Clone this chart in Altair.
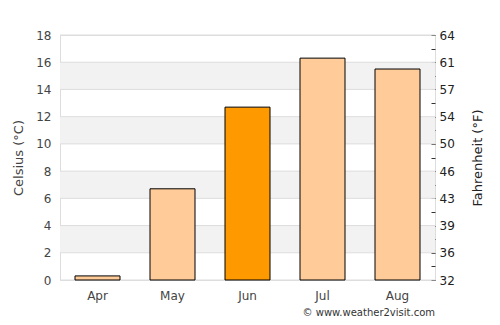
import altair as alt
import pandas as pd

months = ["Apr", "May", "Jun", "Jul", "Aug"]
celsius = [0.3, 6.7, 12.7, 16.3, 15.5]
colors = ["#FFCC99", "#FFCC99", "#FF9900", "#FFCC99", "#FFCC99"]
band_lo = [2, 6, 10, 14]
band_hi = [4, 8, 12, 16]
grid_vals = [0, 2, 4, 6, 8, 10, 12, 14, 16, 18]
credit = "© www.weather2visit.com"

FONT = "DejaVu Sans"
TXT = "#444444"
df = pd.DataFrame({"month": months, "c": celsius, "color": colors})
bands = pd.DataFrame({"lo": band_lo, "hi": band_hi})
grid = pd.DataFrame({"g": grid_vals})

yscale = alt.Scale(domain=[0, 18], nice=False, zero=True)

band_layer = alt.Chart(bands).mark_rect(color="#F2F2F2").encode(
    y=alt.Y("lo:Q", scale=yscale, axis=alt.Axis(
        title="Celsius (°C)", values=grid_vals, grid=False, ticks=False, domain=False,
        labelPadding=9, labelFont=FONT, labelFontSize=12, labelColor=TXT,
        titleFont=FONT, titleFontSize=13, titleFontWeight="normal", titleColor=TXT,
        titlePadding=10)),
    y2="hi:Q",
)

grid_layer = alt.Chart(grid).mark_rule(color="#DDDDDD", strokeWidth=1).encode(
    y=alt.Y("g:Q", scale=yscale, axis=None)
)

bars = alt.Chart(df).mark_bar(stroke="black", strokeWidth=1).encode(
    x=alt.X("month:N", sort=months, scale=alt.Scale(paddingInner=0.4, paddingOuter=0.2),
            axis=alt.Axis(title=None, ticks=False, domain=False, labelAngle=0,
                          labelPadding=10, labelFont=FONT, labelFontSize=12, labelColor=TXT)),
    y=alt.Y("c:Q", scale=yscale, axis=alt.Axis(
        orient="right", title="Fahrenheit (°F)", values=list(range(0, 19)),
        labelExpr="datum.value % 2 == 0 ? format(round(datum.value*1.8+32), 'd') : ''",
        grid=False, domain=False, ticks=True, tickSize=4, tickColor="#333",
        offset=-4, labelPadding=4, labelFont=FONT, labelFontSize=12, labelColor="#222",
        titleFont=FONT, titleFontSize=13, titleFontWeight="normal", titleColor="#222",
        titleAngle=270, titleBaseline="top", titlePadding=17)),
    color=alt.Color("color:N", scale=None),
)

credit_layer = alt.Chart(pd.DataFrame({"t": [credit]})).mark_text(
    font=FONT, fontSize=10, color="#333", align="right", baseline="middle"
).encode(text="t:N", x=alt.value(375), y=alt.value(278))

chart = alt.layer(band_layer, grid_layer, bars, credit_layer).resolve_axis(
    y="independent"
).properties(
    width=375, height=245,
    autosize=alt.AutoSizeParams(type="none"),
    padding={"left": 60, "top": 35, "right": 65, "bottom": 45},
).configure_view(stroke="#DDDDDD", strokeWidth=1)

chart.save("out.html", embed_options={"renderer": "svg", "actions": False})
